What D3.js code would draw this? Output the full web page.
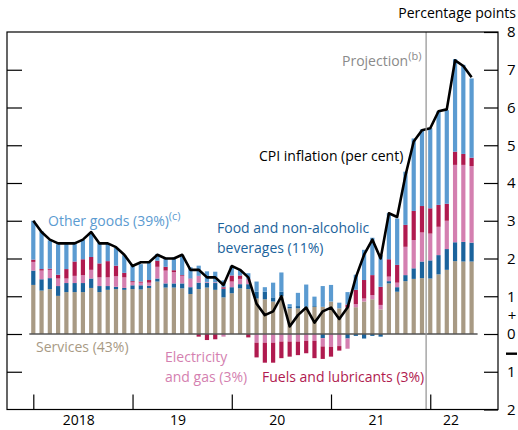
<!DOCTYPE html>
<html>
<head>
<meta charset="utf-8">
<script src="https://cdn.jsdelivr.net/npm/d3@7"></script>
<style>
  body { margin: 0; background: #fff; }
  text { font-family: "Open Sans", sans-serif; }
</style>
</head>
<body>
<div id="chart"></div>
<script>
// Contributions to CPI inflation, percentage points, Jan 2018 - Jun 2022 (2022 = projection)
const services = [1.30, 1.15, 1.19, 1.01, 1.11, 1.11, 1.11, 1.22, 1.11, 1.17, 1.19, 1.17,
                  1.19, 1.18, 1.22, 1.39, 1.23, 1.23, 1.21, 1.06, 1.19, 1.23, 1.17, 0.97,
                  1.08, 1.21, 1.19, 0.94, 0.92, 0.86, 1.00, 0.68, 0.68, 0.70, 0.72, 0.72,
                  0.86, 0.68, 0.70, 0.71, 0.86, 0.92, 0.65, 1.34, 1.12, 1.40, 1.46, 1.48,
                  1.47, 1.58, 1.70, 1.93, 1.92, 1.92];
const food = [0.38, 0.30, 0.29, 0.26, 0.24, 0.24, 0.24, 0.25, 0.16, 0.10, 0.06, 0.05,
              0.10, 0.11, 0.06, 0.08, 0.11, 0.11, 0.13, 0.18, 0.17, 0.13, 0.18, 0.23,
              0.16, 0.11, 0.13, 0.18, 0.20, 0.11, 0.12, 0.04, 0.06, 0.03, 0.02, -0.11,
              0.00, 0.00, -0.12, -0.05, -0.12, -0.05, -0.07, 0.06, 0.12, 0.16, 0.28, 0.44,
              0.48, 0.51, 0.55, 0.50, 0.52, 0.50];
const electricity = [0.23, 0.23, 0.22, 0.20, 0.12, 0.19, 0.21, 0.23, 0.23, 0.23, 0.28, 0.28,
                     0.08, 0.07, 0.08, 0.31, 0.34, 0.30, 0.20, 0.22, 0.18, 0.02, 0.02, -0.07,
                     0.15, 0.14, 0.14, -0.23, -0.23, -0.23, -0.20, -0.20, -0.20, -0.18, -0.18, -0.22,
                     -0.34, -0.32, -0.27, 0.08, 0.08, 0.11, 0.12, 0.12, 0.12, 0.75, 0.75, 0.77,
                     0.71, 0.75, 0.75, 2.05, 2.04, 2.03];
const fuels = [0.06, 0.04, 0.03, 0.10, 0.25, 0.38, 0.42, 0.34, 0.37, 0.43, 0.28, 0.12,
               0.03, 0.03, 0.07, 0.16, 0.10, 0.05, 0.02, 0.01, -0.07, -0.16, -0.14, 0.04,
               0.16, 0.09, -0.09, -0.39, -0.53, -0.53, -0.44, -0.40, -0.36, -0.33, -0.46, -0.33,
               -0.26, -0.12, 0.08, 0.38, 0.49, 0.53, 0.48, 0.46, 0.47, 0.58, 0.77, 0.70,
               0.67, 0.58, 0.45, 0.35, 0.29, 0.22];
const otherGoods = [1.03, 1.00, 0.75, 0.81, 0.70, 0.52, 0.51, 0.63, 0.55, 0.47, 0.47, 0.47,
                    0.43, 0.46, 0.49, 0.18, 0.24, 0.34, 0.53, 0.30, 0.27, 0.28, 0.28, 0.18,
                    0.25, 0.15, 0.15, 0.27, 0.12, 0.39, 0.51, 0.07, 0.35, 0.58, 0.25, 0.55,
                    0.44, 0.15, 0.33, 0.40, 0.80, 0.99, 0.84, 1.22, 1.23, 1.41, 1.92, 2.03,
                    2.12, 2.48, 2.48, 2.45, 2.36, 2.10];
const cpi = [3.0, 2.7, 2.5, 2.4, 2.4, 2.4, 2.5, 2.7, 2.4, 2.4, 2.3, 2.1,
             1.8, 1.9, 1.9, 2.1, 2.0, 2.0, 2.1, 1.7, 1.7, 1.5, 1.5, 1.3,
             1.8, 1.7, 1.5, 0.8, 0.5, 0.6, 1.0, 0.2, 0.5, 0.7, 0.3, 0.6,
             0.7, 0.4, 0.7, 1.5, 2.1, 2.5, 2.0, 3.2, 3.1, 4.2, 5.1, 5.4,
             5.45, 5.9, 5.95, 7.25, 7.1, 6.8];
const yearLabels = ["2018", "19", "20", "21", "22"];
const rightTicks = [8, 7, 6, 5, 4, 3, 2, 1, 0, -1, -2];
const projectionStart = "2022-01";

const seriesKeys = ["services", "food", "electricity", "fuels", "other"];
const colors = {
  services: "#a89a84",
  food: "#1b639c",
  electricity: "#d47fb0",
  fuels: "#b01a4f",
  other: "#5b9bd1"
};

function init() {
  const width = 518, height = 430;
  const frame = { left: 7, right: 498, top: 32, bottom: 409.5 };

  const fmt = d3.timeFormat("%Y-%m");
  const months = d3.timeMonth.range(new Date(2018, 0, 1), new Date(2022, 6, 1)).map(fmt);

  const table = months.map((m, i) => ({
    month: m,
    services: services[i],
    food: food[i],
    electricity: electricity[i],
    fuels: fuels[i],
    other: otherGoods[i],
    cpi: cpi[i]
  }));

  const x = d3.scalePoint().domain(months).range([33.3, 471.6]);
  const step = x.step();
  const barW = 4.2;
  const y = d3.scaleLinear().domain([-2, 8]).range([frame.bottom, frame.top]);

  const svg = d3.select("#chart").append("svg")
    .attr("width", width)
    .attr("height", height);

  // stacked bars
  const stacked = d3.stack().keys(seriesKeys).offset(d3.stackOffsetDiverging)(table);
  svg.append("g").selectAll("g")
    .data(stacked)
    .join("g")
    .attr("fill", d => colors[d.key])
    .selectAll("rect")
    .data(d => d)
    .join("rect")
    .attr("x", d => x(d.data.month) - barW / 2)
    .attr("y", d => y(Math.max(d[0], d[1])))
    .attr("width", barW)
    .attr("height", d => Math.abs(y(d[0]) - y(d[1])));

  // zero line
  svg.append("line")
    .attr("x1", x(months[0]) - 4).attr("x2", x(months[months.length - 1]) + 6)
    .attr("y1", y(0)).attr("y2", y(0))
    .attr("stroke", "#555").attr("stroke-width", 1.4);

  // CPI line
  svg.append("path")
    .datum(table)
    .attr("fill", "none")
    .attr("stroke", "#000")
    .attr("stroke-width", 2.6)
    .attr("stroke-linejoin", "round")
    .attr("d", d3.line().x(d => x(d.month)).y(d => y(d.cpi)));

  // projection marker
  const px = x(projectionStart) - step / 2;
  svg.append("line")
    .attr("x1", px).attr("x2", px)
    .attr("y1", frame.top).attr("y2", frame.bottom)
    .attr("stroke", "#999").attr("stroke-width", 1.3);

  // frame
  svg.append("rect")
    .attr("x", frame.left).attr("y", frame.top)
    .attr("width", frame.right - frame.left).attr("height", frame.bottom - frame.top)
    .attr("fill", "none").attr("stroke", "#000").attr("stroke-width", 1.2);

  // left ticks
  const leftAxis = svg.append("g")
    .attr("transform", `translate(${frame.left},0)`)
    .call(d3.axisLeft(y).tickValues(rightTicks.slice(1, -1)).tickSize(-15).tickFormat(""));
  leftAxis.select(".domain").remove();
  leftAxis.selectAll("line").attr("stroke-width", 1.2);

  // right axis
  const rightAxis = svg.append("g")
    .attr("transform", `translate(${frame.right},0)`)
    .call(d3.axisRight(y).tickValues(rightTicks).tickSize(-14).tickPadding(9)
      .tickFormat(d => Math.abs(d)));
  rightAxis.select(".domain").remove();
  rightAxis.selectAll("line").attr("stroke-width", 1.2);
  rightAxis.selectAll("text")
    .attr("font-size", 15).attr("fill", "#000")
    .style("font-family", "'Open Sans', sans-serif");

  svg.append("text").attr("x", 512).attr("y", 320.5)
    .attr("text-anchor", "middle").attr("font-size", 15).text("+");
  svg.append("rect").attr("x", 506).attr("y", 352.5)
    .attr("width", 11).attr("height", 2.4).attr("fill", "#000");

  // bottom ticks at January of each year
  const janMonths = months.filter(m => m.endsWith("-01"));
  const bottomAxis = svg.append("g")
    .attr("transform", `translate(0,${frame.bottom})`)
    .call(d3.axisBottom(x).tickValues(janMonths).tickSize(-15).tickFormat(""));
  bottomAxis.select(".domain").remove();
  bottomAxis.selectAll("line").attr("stroke-width", 1.2);

  // year labels centred on their months
  yearLabels.forEach((lab, i) => {
    const yr = String(2018 + i);
    const inYear = months.filter(m => m.startsWith(yr));
    const cx = d3.mean(inYear, m => x(m));
    svg.append("text")
      .attr("x", cx).attr("y", 425)
      .attr("text-anchor", "middle").attr("font-size", 14)
      .text(lab);
  });

  svg.append("text")
    .attr("x", 516).attr("y", 18)
    .attr("text-anchor", "end").attr("font-size", 14)
    .text("Percentage points");

  // annotations
  const note = (tx, ty, str, col, sup) => {
    const t = svg.append("text").attr("x", tx).attr("y", ty)
      .attr("font-size", 14).attr("fill", col).text(str);
    if (sup) t.append("tspan").attr("dy", -6).attr("font-size", 11).text(sup);
  };
  note(342, 66, "Projection", "#8a8a8a", "(b)");
  note(259, 161, "CPI inflation (per cent)", "#000");
  note(48, 226, "Other goods (39%)", colors.other, "(c)");
  note(217, 233, "Food and non-alcoholic", colors.food);
  note(217, 253, "beverages (11%)", colors.food);
  note(36, 352, "Services (43%)", colors.services);
  note(165, 362, "Electricity", colors.electricity);
  note(165, 382, "and gas (3%)", colors.electricity);
  note(262, 382, "Fuels and lubricants (3%)", colors.fuels);
}

window.onload = init;
</script>
</body>
</html>
